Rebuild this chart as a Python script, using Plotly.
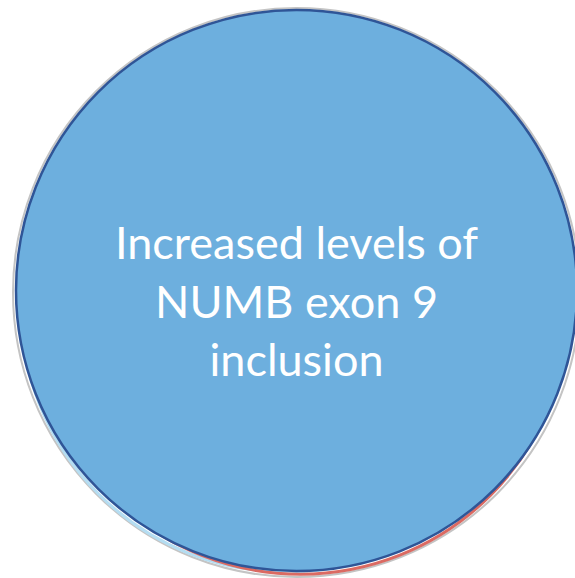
import plotly.graph_objects as go

# Chart content
label_lines = ["Increased levels of", "NUMB exon 9", "inclusion"]

W, H = 575, 578
cx, cy, r = 296.5, 290.5, 280.5

fig = go.Figure()
fig.add_trace(go.Scatter(x=[cx], y=[cy], mode="markers", marker=dict(opacity=0), hoverinfo="skip", showlegend=False))


def circ(x, y, rad, color, width, fill="rgba(0,0,0,0)"):
    return dict(type="circle", xref="x", yref="y", x0=x - rad, x1=x + rad, y0=y - rad, y1=y + rad,
                line=dict(color=color, width=width), fillcolor=fill, layer="below")


shapes = [
    # gray outer ring
    dict(type="circle", xref="x", yref="y", x0=cx - r - 3, x1=cx + r + 3, y0=cy - r - 2, y1=cy + r + 6,
         line=dict(color="#C4C4C4", width=2), fillcolor="rgba(0,0,0,0)", layer="below"),
    # light blue ring peeking out bottom-left
    circ(cx - 9.5, cy + 15, r - 14, "#B4DDF2", 3),
    # red ring peeking out at the bottom
    circ(cx + 4, cy + 15.5, r - 12.3, "#DB6A62", 3),
    # main blue circle
    circ(cx, cy, r, "#2F5597", 2.5, "#6DAFDE"),
]

fig.update_layout(
    width=W, height=H,
    margin=dict(l=0, r=0, t=0, b=0),
    paper_bgcolor="white", plot_bgcolor="white",
    xaxis=dict(range=[0, W], visible=False, fixedrange=True),
    yaxis=dict(range=[H, 0], visible=False, fixedrange=True),
    shapes=shapes,
    showlegend=False,
)

fig.add_annotation(
    x=296, y=300, xref="x", yref="y",
    text="<br>".join(label_lines),
    showarrow=False,
    font=dict(family="Lato, 'Open Sans', sans-serif", size=45, color="white"),
    align="center", xanchor="center", yanchor="middle",
)

fig.write_html(
    "out.html",
    config={"displayModeBar": False},
    post_script="document.body.style.margin='0';document.body.style.overflow='hidden';",
)
